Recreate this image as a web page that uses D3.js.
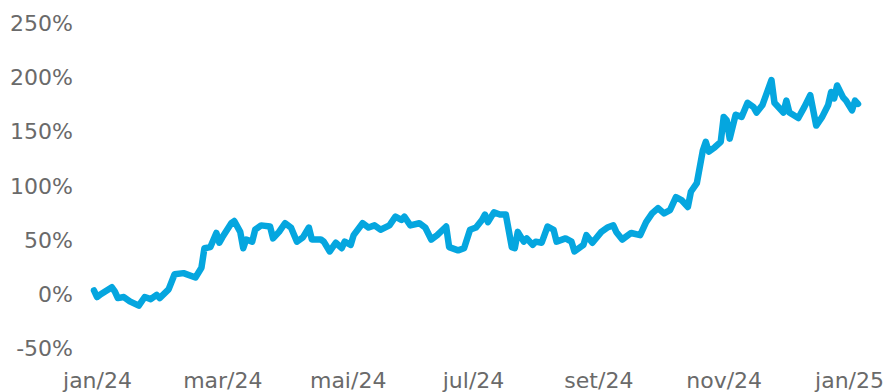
<!DOCTYPE html>
<html>
<head>
<meta charset="utf-8">
<script src="https://cdn.jsdelivr.net/npm/d3@7"></script>
<style>
  html, body { margin: 0; padding: 0; background: #ffffff; }
  svg { display: block; }
  .axis text { font-family: "DejaVu Sans", sans-serif; font-size: 22px; fill: #6a6a6a; }
</style>
</head>
<body>
<svg id="chart" width="887" height="392"></svg>
<script>
// Trading session number (0 = first session of 2024) and cumulative return in %
const session = [0,1,2,6,7,8,10,12,15,17,19,21,22,25,27,30,34,36,37,39,
  41,42,43,46,47,49,50,51,53,54,56,59,60,62,64,66,68,70,72,73,
  76,77,79,81,83,84,86,87,90,92,94,96,99,101,103,104,106,109,111,113,
  115,118,119,122,124,126,128,130,131,132,134,136,138,140,141,142,144,145,147,148,
  150,152,154,155,158,160,161,164,165,167,170,172,174,175,177,180,183,185,187,189,
  191,193,195,197,199,200,202,204,205,206,208,210,211,212,213,215,217,219,221,222,
  224,227,228,231,232,233,236,238,240,242,244,246,247,248,249,251,252,254,255,256];

const returnPct = [3,-3,-1,6,2,-4,-3,-7,-11,-3,-5,-1,-4,4,18,19,15,24,42,43,
  56,47,52,65,67,57,42,50,48,59,63,62,51,57,65,61,48,52,61,50,
  50,48,39,47,42,48,45,54,65,61,63,59,63,71,68,71,63,65,61,50,
  54,62,43,40,42,59,61,68,73,66,75,73,73,43,42,57,48,51,45,48,
  47,62,59,48,51,48,39,45,54,47,57,61,63,57,50,56,54,66,74,79,
  74,77,89,86,80,94,102,132,140,131,135,140,163,160,143,165,163,176,172,167,
  174,197,176,167,178,167,162,172,183,155,163,174,186,180,192,181,178,169,178,175];

// Month labels and the session each one sits on
const monthTicks = [1, 43, 85, 127, 169, 211, 253];
const monthLabels = ["jan/24", "mar/24", "mai/24", "jul/24", "set/24", "nov/24", "jan/25"];

// Percentage ticks on the value axis
const pctTicks = [-50, 0, 50, 100, 150, 200, 250];

const svg = d3.select("#chart");

const x = d3.scaleLinear().domain([0, 256]).range([94, 858]);
const y = d3.scaleLinear().domain([-50, 250]).range([348, 22.5]);

// Value axis (labels only)
const yAxis = svg.append("g")
  .attr("class", "axis")
  .attr("transform", "translate(73,0)")
  .call(d3.axisLeft(y).tickValues(pctTicks).tickFormat(d => d + "%").tickSize(0).tickPadding(0));
yAxis.select(".domain").remove();
yAxis.selectAll("text").attr("dy", "0.36em");

// Month axis (labels only)
const xAxis = svg.append("g")
  .attr("class", "axis")
  .attr("transform", "translate(0,388)")
  .call(d3.axisBottom(x).tickValues(monthTicks)
    .tickFormat((d, i) => monthLabels[i]).tickSize(0).tickPadding(0));
xAxis.select(".domain").remove();
xAxis.selectAll("text").attr("dy", "0");

// Return line
const data = session.map((s, i) => ({ s: s, v: returnPct[i] }));
const line = d3.line().x(d => x(d.s)).y(d => y(d.v));

svg.append("path")
  .datum(data)
  .attr("d", line)
  .attr("fill", "none")
  .attr("stroke", "#05a6df")
  .attr("stroke-width", 6.5)
  .attr("stroke-linejoin", "round")
  .attr("stroke-linecap", "round");
</script>
</body>
</html>
